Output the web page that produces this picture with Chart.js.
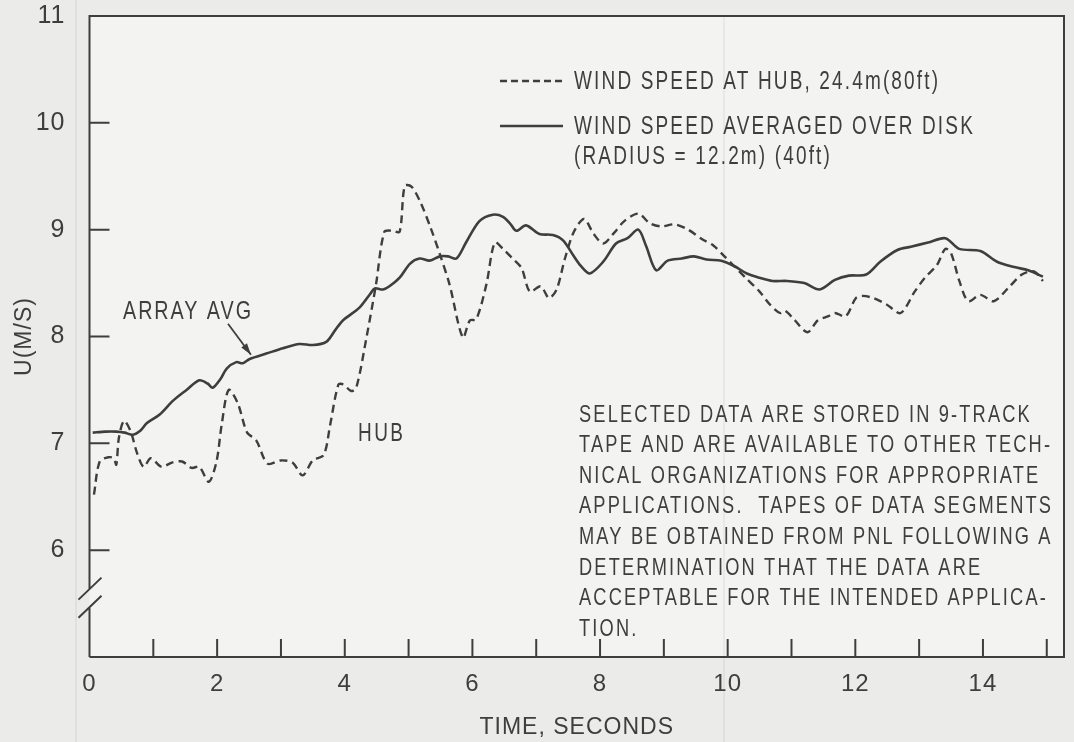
<!DOCTYPE html>
<html lang="en">
<head>
<meta charset="UTF-8">
<title>Wind speed at hub and averaged over disk</title>
<script src="https://cdn.jsdelivr.net/npm/chart.js@4.4.0/dist/chart.umd.min.js"></script>
<style>
    html, body { margin: 0; padding: 0; background: #ebebea; }
    #wrap { width: 1074px; height: 742px; }
</style>
</head>
<body>
<div id="wrap"><canvas id="windChart" width="1074" height="742"></canvas></div>
<script>
    // wind speed at hub height, 24.4 m (seconds, m/s)
    const hubTime = [0.07, 0.16, 0.30, 0.38, 0.42, 0.46, 0.54, 0.64, 0.75, 0.85, 0.96, 1.13, 1.29, 1.45, 1.60, 1.72, 1.87, 1.99,
        2.07, 2.18, 2.32, 2.47, 2.61, 2.79, 3.00, 3.18, 3.34, 3.50, 3.67, 3.77, 3.90, 3.98, 4.10, 4.18, 4.34, 4.49, 4.62, 4.75,
        4.86, 4.94, 5.05, 5.19, 5.35, 5.49, 5.64, 5.85, 5.96, 6.06, 6.22, 6.35, 6.48, 6.63, 6.77, 6.90, 7.07, 7.20, 7.32, 7.45,
        7.59, 7.75, 7.90, 8.05, 8.22, 8.38, 8.60, 8.78, 8.96, 9.17, 9.38, 9.60, 9.78, 9.95, 10.10, 10.28, 10.50, 10.66, 10.82,
        10.90, 11.04, 11.25, 11.41, 11.58, 11.68, 11.85, 12.01, 12.12, 12.28, 12.49, 12.71, 12.93, 13.09, 13.28, 13.41, 13.50,
        13.63, 13.77, 13.96, 14.17, 14.39, 14.61, 14.80, 14.94];
    const hubSpeed = [6.52, 6.83, 6.87, 6.86, 6.80, 7.05, 7.21, 7.12, 6.90, 6.78, 6.86, 6.78, 6.82, 6.83, 6.77, 6.78, 6.64, 6.83,
        7.17, 7.50, 7.38, 7.10, 7.03, 6.81, 6.84, 6.82, 6.70, 6.84, 6.89, 7.17, 7.55, 7.55, 7.49, 7.52, 7.99, 8.49, 8.98, 8.99,
        8.98, 9.41, 9.40, 9.25, 9.01, 8.77, 8.49, 7.99, 8.15, 8.16, 8.49, 8.88, 8.82, 8.73, 8.64, 8.42, 8.47, 8.36, 8.44, 8.73,
        8.98, 9.10, 8.96, 8.87, 8.97, 9.08, 9.15, 9.06, 9.03, 9.05, 9.00, 8.91, 8.85, 8.75, 8.66, 8.55, 8.42, 8.30, 8.22,
        8.24, 8.16, 8.04, 8.15, 8.19, 8.22, 8.19, 8.36, 8.38, 8.36, 8.30, 8.22, 8.42, 8.55, 8.67, 8.82, 8.78,
        8.52, 8.33, 8.39, 8.33, 8.45, 8.58, 8.61, 8.52];

    // wind speed averaged over the rotor disk, radius 12.2 m
    const diskTime = [0.05, 0.25, 0.42, 0.55, 0.68, 0.80, 0.90, 1.10, 1.31, 1.52, 1.72, 1.85, 1.93, 2.05, 2.15, 2.30, 2.40, 2.51,
        2.77, 3.03, 3.29, 3.50, 3.71, 3.85, 3.97, 4.23, 4.40, 4.47, 4.60, 4.70, 4.86, 5.02, 5.17, 5.33, 5.49, 5.62, 5.75, 5.90,
        6.11, 6.32, 6.48, 6.60, 6.69, 6.84, 7.05, 7.26, 7.42, 7.58, 7.70, 7.84, 8.05, 8.25, 8.43, 8.60, 8.72, 8.88, 9.06, 9.28,
        9.47, 9.67, 9.90, 10.10, 10.30, 10.50, 10.70, 10.93, 11.20, 11.44, 11.68, 11.90, 12.17, 12.39, 12.66, 12.87, 13.14,
        13.41, 13.63, 13.96, 14.22, 14.49, 14.71, 14.94];
    const diskSpeed = [7.10, 7.11, 7.11, 7.10, 7.08, 7.12, 7.19, 7.27, 7.40, 7.50, 7.59, 7.56, 7.52, 7.60, 7.70, 7.76, 7.75, 7.79,
        7.84, 7.89, 7.93, 7.92, 7.95, 8.06, 8.15, 8.27, 8.40, 8.45, 8.44, 8.47, 8.55, 8.68, 8.73, 8.71, 8.75, 8.75, 8.73, 8.88,
        9.08, 9.14, 9.12, 9.05, 8.99, 9.04, 8.96, 8.95, 8.90, 8.76, 8.66, 8.59, 8.70, 8.87, 8.92, 9.00, 8.85, 8.62, 8.71, 8.73,
        8.75, 8.72, 8.71, 8.66, 8.59, 8.55, 8.52, 8.52, 8.50, 8.44, 8.53, 8.57, 8.58, 8.70, 8.81, 8.84, 8.88,
        8.92, 8.82, 8.80, 8.70, 8.65, 8.62, 8.56];

    const xTicks = [1, 2, 3, 4, 5, 6, 7, 8, 9, 10, 11, 12, 13, 14, 15];
    const xLabels = [0, 2, 4, 6, 8, 10, 12, 14];
    const yTicks = [6, 7, 8, 9, 10];
    const yLabels = [6, 7, 8, 9, 10, 11];

    const legendLines = ['WIND SPEED AT HUB, 24.4m(80ft)', 'WIND SPEED AVERAGED OVER DISK', '(RADIUS = 12.2m) (40ft)'];
    const noteLines = [
        'SELECTED DATA ARE STORED IN 9-TRACK',
        'TAPE AND ARE AVAILABLE TO OTHER TECH-',
        'NICAL ORGANIZATIONS FOR APPROPRIATE',
        'APPLICATIONS.  TAPES OF DATA SEGMENTS',
        'MAY BE OBTAINED FROM PNL FOLLOWING A',
        'DETERMINATION THAT THE DATA ARE',
        'ACCEPTABLE FOR THE INTENDED APPLICA-',
        'TION.'
    ];

    const ink = '#3e3e3e';
    const FONT = '"Liberation Sans", Arial, sans-serif';
    const SQUEEZE = 0.76;   // condensed lettering

    const toPoints = (xs, ys) => xs.map((t, i) => ({ x: t, y: ys[i] }));

    // condensed, letter-spaced text; spacing chosen so the reference line spans `width`
    function spacingFor(ctx, refLine, size, width) {
        ctx.font = size + 'px ' + FONT;
        ctx.letterSpacing = '0px';
        const w = ctx.measureText(refLine).width;
        return Math.max(0, (width / SQUEEZE - w) / (refLine.length - 1));
    }

    function drawCondensed(ctx, text, x, y, size, spacing) {
        ctx.save();
        ctx.translate(x, y);
        ctx.scale(SQUEEZE, 1);
        ctx.font = size + 'px ' + FONT;
        ctx.letterSpacing = spacing + 'px';
        ctx.fillText(text, 0, 0);
        ctx.restore();
    }

    // paper, frame, inward ticks, axis break, legend and notes
    const paperPlugin = {
        id: 'paper',
        beforeDraw(chart) {
            const { ctx, chartArea: a } = chart;
            ctx.save();
            ctx.fillStyle = '#ebebea';
            ctx.fillRect(0, 0, chart.width, chart.height);
            ctx.fillStyle = '#f3f3f2';
            ctx.fillRect(a.left, a.top, a.right - a.left, a.bottom - a.top);
            // faint scan lines
            ctx.strokeStyle = 'rgba(0,0,0,0.06)';
            ctx.lineWidth = 1.5;
            ctx.beginPath();
            ctx.moveTo(76, 0); ctx.lineTo(76, chart.height);
            ctx.moveTo(724, a.top); ctx.lineTo(724, chart.height);
            ctx.stroke();
            ctx.restore();
            ctx.letterSpacing = '1px';
        },
        afterDraw(chart) {
            const { ctx, chartArea: a } = chart;
            const xs = chart.scales.x, ys = chart.scales.y;
            ctx.save();
            ctx.strokeStyle = ink;
            ctx.fillStyle = ink;
            ctx.lineWidth = 2;
            ctx.lineCap = 'butt';

            const b1 = ys.getPixelForValue(5.64);
            const b2 = ys.getPixelForValue(5.47);

            ctx.beginPath();
            ctx.moveTo(a.left, a.bottom); ctx.lineTo(a.right, a.bottom);
            ctx.lineTo(a.right, a.top); ctx.lineTo(a.left, a.top);
            ctx.lineTo(a.left, b1);
            ctx.moveTo(a.left, b2); ctx.lineTo(a.left, a.bottom);
            // axis break
            [b1, b2].forEach(py => {
                ctx.moveTo(a.left - 11, py + 11);
                ctx.lineTo(a.left + 12, py - 11);
            });
            xTicks.forEach(t => {
                const px = xs.getPixelForValue(t);
                ctx.moveTo(px, a.bottom);
                ctx.lineTo(px, a.bottom - 18);
            });
            yTicks.forEach(v => {
                const py = ys.getPixelForValue(v);
                ctx.moveTo(a.left, py);
                ctx.lineTo(a.left + 20, py);
            });
            ctx.stroke();

            // legend
            ctx.lineWidth = 2.4;
            ctx.setLineDash([7, 4]);
            ctx.beginPath();
            ctx.moveTo(500, 81); ctx.lineTo(563, 81);
            ctx.stroke();
            ctx.setLineDash([]);
            ctx.beginPath();
            ctx.moveTo(500, 126); ctx.lineTo(563, 126);
            ctx.stroke();

            ctx.textBaseline = 'middle';
            ctx.textAlign = 'left';
            const legendGap = spacingFor(ctx, legendLines[0], 25, 364);
            drawCondensed(ctx, legendLines[0], 574, 82, 25, legendGap);
            drawCondensed(ctx, legendLines[1], 574, 127, 25, legendGap);
            drawCondensed(ctx, legendLines[2], 574, 157, 25, legendGap);

            const noteGap = spacingFor(ctx, noteLines[3], 24, 472);
            noteLines.forEach((line, i) => {
                drawCondensed(ctx, line, 579, 415 + i * 30.6, 24, noteGap);
            });

            // curve labels
            const avgGap = spacingFor(ctx, 'ARRAY AVG', 26, 128);
            drawCondensed(ctx, 'ARRAY AVG', 123, ys.getPixelForValue(8.23), 26, avgGap);
            const hubGap = spacingFor(ctx, 'HUB', 25, 45);
            drawCondensed(ctx, 'HUB', 358, ys.getPixelForValue(7.09), 25, hubGap);

            // arrow to the array average curve
            const ax0 = xs.getPixelForValue(2.17), ay0 = ys.getPixelForValue(8.12);
            const ax1 = xs.getPixelForValue(2.53), ay1 = ys.getPixelForValue(7.83);
            const ang = Math.atan2(ay1 - ay0, ax1 - ax0);
            ctx.lineWidth = 1.8;
            ctx.beginPath();
            ctx.moveTo(ax0, ay0); ctx.lineTo(ax1, ay1);
            ctx.stroke();
            ctx.beginPath();
            ctx.moveTo(ax1, ay1);
            ctx.lineTo(ax1 - 12 * Math.cos(ang - 0.3), ay1 - 12 * Math.sin(ang - 0.3));
            ctx.lineTo(ax1 - 12 * Math.cos(ang + 0.3), ay1 - 12 * Math.sin(ang + 0.3));
            ctx.closePath();
            ctx.fill();
            ctx.restore();
        }
    };

    const ctx = document.getElementById('windChart').getContext('2d');
    const windChart = new Chart(ctx, {
        type: 'line',
        data: {
            datasets: [
                {
                    label: 'WIND SPEED AT HUB, 24.4m(80ft)',
                    data: toPoints(hubTime, hubSpeed),
                    borderColor: ink,
                    borderWidth: 2.4,
                    borderDash: [8, 5],
                    pointRadius: 0,
                    tension: 0.3,
                    fill: false
                },
                {
                    label: 'WIND SPEED AVERAGED OVER DISK',
                    data: toPoints(diskTime, diskSpeed),
                    borderColor: ink,
                    borderWidth: 2.6,
                    pointRadius: 0,
                    tension: 0.3,
                    fill: false
                }
            ]
        },
        options: {
            responsive: false,
            animation: false,
            layout: { padding: { top: 16, right: 10, left: 0, bottom: 0 } },
            plugins: {
                legend: { display: false },
                tooltip: { enabled: false }
            },
            scales: {
                x: {
                    type: 'linear',
                    min: 0,
                    max: 15.27,
                    afterFit: s => { s.height = 85; s.paddingLeft = 0; s.paddingRight = 0; },
                    grid: { display: false, drawTicks: false },
                    border: { display: false },
                    ticks: {
                        stepSize: 1,
                        autoSkip: false,
                        includeBounds: false,
                        maxRotation: 0,
                        padding: 13,
                        color: ink,
                        font: { family: FONT, size: 24 },
                        callback: v => xLabels.includes(v) ? String(v) : ''
                    },
                    title: {
                        display: true,
                        text: 'TIME, SECONDS',
                        color: ink,
                        font: { family: FONT, size: 23 },
                        padding: { top: 0, bottom: 1 }
                    }
                },
                y: {
                    min: 5,
                    max: 11,
                    afterFit: s => { s.width = 89.5; s.paddingTop = 0; s.paddingBottom = 0; },
                    grid: { display: false, drawTicks: false },
                    border: { display: false },
                    ticks: {
                        stepSize: 1,
                        includeBounds: false,
                        padding: 24,
                        color: ink,
                        font: { family: FONT, size: 25 },
                        callback: v => yLabels.includes(v) ? String(v) : ''
                    },
                    title: {
                        display: true,
                        text: 'U(M/S)',
                        color: ink,
                        font: { family: FONT, size: 23 },
                        padding: { top: 11, bottom: 0 }
                    }
                }
            }
        },
        plugins: [paperPlugin]
    });
</script>
</body>
</html>
